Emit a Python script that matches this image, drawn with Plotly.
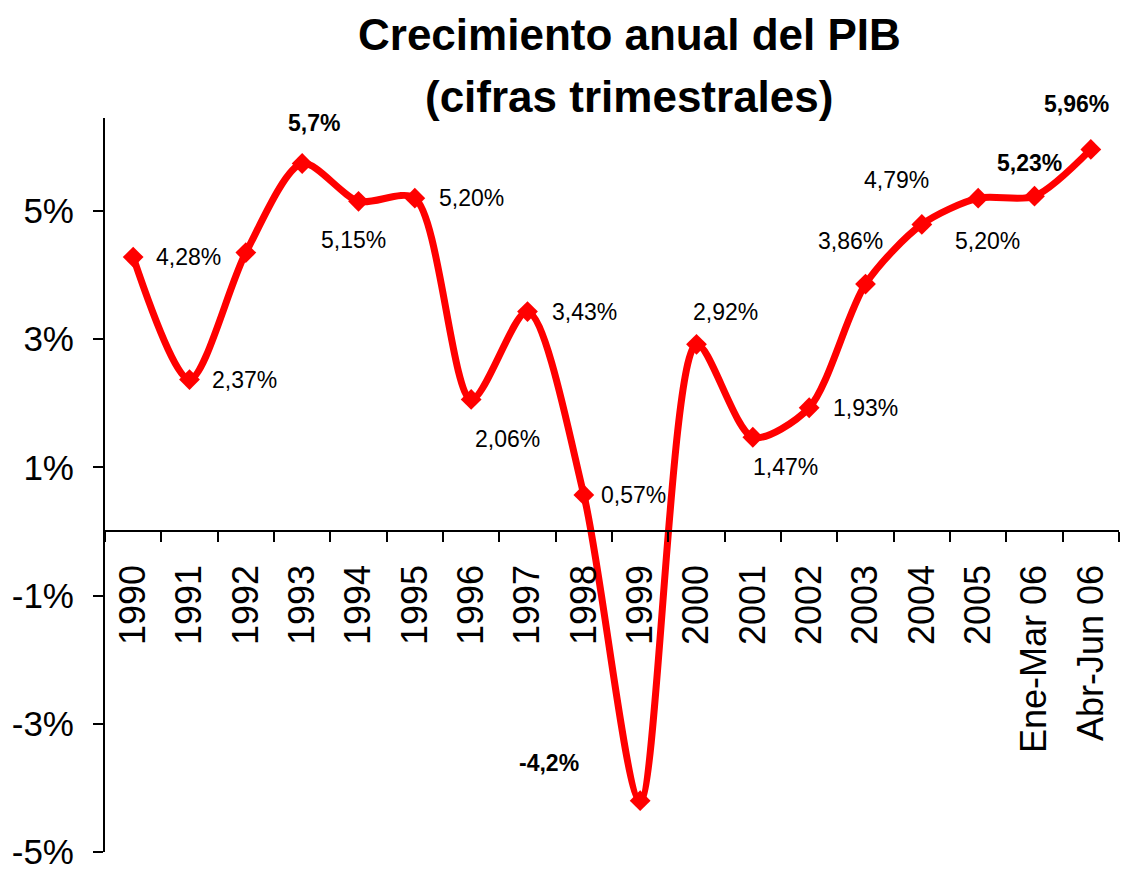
import plotly.graph_objects as go

categories = ["1990", "1991", "1992", "1993", "1994", "1995", "1996", "1997", "1998",
              "1999", "2000", "2001", "2002", "2003", "2004", "2005", "Ene-Mar 06", "Abr-Jun 06"]
growth = [4.28, 2.37, 4.35, 5.74, 5.15, 5.20, 2.06, 3.43, 0.57,
          -4.20, 2.92, 1.47, 1.93, 3.86, 4.79, 5.20, 5.23, 5.96]
labels = ["4,28%", "2,37%", "", "5,7%", "5,15%", "5,20%", "2,06%", "3,43%", "0,57%",
          "-4,2%", "2,92%", "1,47%", "1,93%", "3,86%", "4,79%", "5,20%", "5,23%", "5,96%"]
bold = [False, False, False, True, False, False, False, False, False,
        True, False, False, False, False, False, False, True, True]
y_ticks = [-5, -3, -1, 1, 3, 5]
y_tick_text = ["-5%", "-3%", "-1%", "1%", "3%", "5%"]
title_lines = ["Crecimiento anual del PIB", "(cifras trimestrales)"]

# label placement in pixels: (dx, dy, xanchor), one per category
placement = [
    (21, 0, "left"), (20, 0, "left"), None, (12, 41, "center"),
    (-5, -39, "center"), (22, 0, "left"), (36, -40, "center"), (22, 0, "left"),
    (15, 0, "left"), (-91, 38, "center"), (29, 32, "center"), (33, -30, "center"),
    (22, 0, "left"), (-15, 43, "center"), (-25, 44, "center"), (9, -43, "center"),
    (-5, 33, "center"), (-14, 45, "center"),
]
ymin, ymax = -5, 6.45
font_family = "Liberation Sans, Arial, sans-serif"

# figure is placed by the page 8px from the top-left corner
W, H = 1114, 865
plot_l, plot_r, plot_t, plot_b = 97, 1111, 110, 844

fig = go.Figure()
fig.add_trace(go.Scatter(
    x=categories, y=growth, mode="lines+markers",
    line=dict(color="#FF0000", width=7, shape="spline", smoothing=0.8),
    marker=dict(symbol="diamond", size=16, color="#FF0000"),
    hoverinfo="skip", showlegend=False,
))

for i, (v, t, b, p) in enumerate(zip(growth, labels, bold, placement)):
    if not t or p is None:
        continue
    dx, dy, anchor = p
    fig.add_annotation(
        x=i, y=v, xref="x", yref="y", text=f"<b>{t}</b>" if b else t, showarrow=False,
        xshift=dx, yshift=dy, xanchor=anchor, yanchor="middle",
        font=dict(family=font_family, size=23, color="black"),
    )

# title, two centred lines
for line, yc in zip(title_lines, [26, 89]):
    fig.add_annotation(
        text=f"<b>{line}</b>", showarrow=False,
        xref="paper", yref="paper",
        x=(621 - plot_l) / (plot_r - plot_l), y=1 + (plot_t - yc) / (plot_b - plot_t),
        xanchor="center", yanchor="middle",
        font=dict(family=font_family, size=44, color="black"),
    )

fig.update_layout(
    width=W, height=H,
    margin=dict(l=plot_l, r=W - plot_r, t=plot_t, b=H - plot_b, autoexpand=False),
    paper_bgcolor="white", plot_bgcolor="white",
)
fig.update_xaxes(
    type="category", anchor="free", position=(0 - ymin) / (ymax - ymin),
    showline=True, linecolor="black", linewidth=2,
    ticks="outside", ticklen=10, tickwidth=2, tickcolor="black", tickson="boundaries",
    tickangle=-90, tickfont=dict(family=font_family, size=36, color="black"),
    ticklabelstandoff=18, automargin=False,
    showgrid=False, zeroline=False, range=[-0.5, 17.5],
)
fig.update_yaxes(
    range=[ymin, ymax], tickvals=y_ticks, ticktext=y_tick_text,
    showline=True, linecolor="black", linewidth=2,
    ticks="outside", ticklen=10, tickwidth=2, tickcolor="black",
    tickfont=dict(family=font_family, size=35, color="black"),
    ticklabelstandoff=12, automargin=False,
    showgrid=False, zeroline=False,
)

fig.write_html("out.html")
